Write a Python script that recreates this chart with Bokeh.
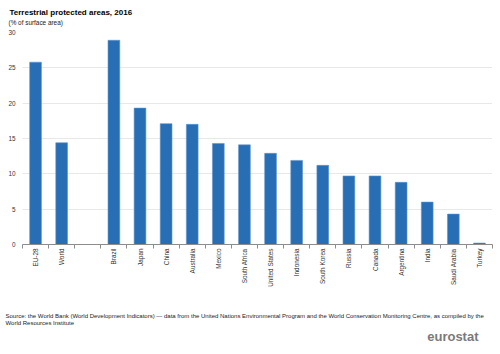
import math
from bokeh.plotting import figure
from bokeh.models import (Range1d, LinearAxis, FixedTicker, Title, ColumnDataSource)
from bokeh.embed import file_html
from bokeh.resources import INLINE

categories = ["EU-28", "World", " ", "Brazil", "Japan", "China", "Australia", "Mexico",
              "South Africa", "United States", "Indonesia", "South Korea", "Russia",
              "Canada", "Argentina", "India", "Saudi Arabia", "Turkey"]
bar_categories = ["EU-28", "World", "Brazil", "Japan", "China", "Australia", "Mexico",
                  "South Africa", "United States", "Indonesia", "South Korea", "Russia",
                  "Canada", "Argentina", "India", "Saudi Arabia", "Turkey"]
values = [25.8, 14.4, 28.9, 19.3, 17.1, 17.0, 14.3, 14.1, 12.9, 11.9, 11.2, 9.7, 9.7,
          8.8, 6.0, 4.3, 0.2]
y_ticks = [0, 5, 10, 15, 20, 25, 30]

title_text = "Terrestrial protected areas, 2016"
subtitle_text = "(% of surface area)"
source_text = ("Source: the World Bank (World Development Indicators) \u2014 data from the "
               "United Nations Environmental Program and the World Conservation Monitoring "
               "Centre, as compiled by the\nWorld Resources Institute")
logo_text = "eurostat"

FONT = "Liberation Sans"
W, H = 500, 354
N = len(categories)
LEFT, RIGHT, TOP, BOTTOM = 22, 8, 32, 110

p = figure(x_range=Range1d(-0.5, N - 0.5), y_range=Range1d(0, 30), width=W, height=H,
           output_backend="svg", toolbar_location=None, x_axis_location=None,
           title_location=None,
           min_border_left=LEFT, min_border_right=RIGHT, min_border_top=TOP,
           min_border_bottom=BOTTOM)
p.outline_line_color = None
p.background_fill_color = "white"

src = ColumnDataSource(dict(x=[categories.index(c) for c in bar_categories], val=values))
p.vbar(x="x", top="val", width=0.45, source=src, fill_color="#286EB4",
       line_color="#5d93cf", line_width=0.6)

# y axis
ya = p.yaxis[0]
ya.ticker = FixedTicker(ticks=y_ticks)
ya.axis_line_color = None
ya.major_tick_line_color = None
ya.minor_tick_line_color = None
ya.major_tick_out = 0
ya.major_tick_in = 0
ya.minor_tick_out = 0
ya.minor_tick_in = 0
ya.major_label_text_font = FONT
ya.major_label_text_font_size = "6.4px"
ya.major_label_text_color = "#333333"
ya.major_label_standoff = 7

for g in p.grid:
    if g.dimension == 0:
        g.visible = False
    else:
        g.grid_line_color = "#d0d0d0"
        g.grid_line_dash = "1 1"
        g.ticker = FixedTicker(ticks=y_ticks)

# boundary tick axis (ticks between categories)
edge_axis = LinearAxis(ticker=FixedTicker(ticks=[i - 0.5 for i in range(N + 1)]),
                       major_tick_in=0, major_tick_out=4, minor_tick_line_color=None,
                       minor_tick_out=0, minor_tick_in=0,
                       axis_line_color="#8c8c8c", major_tick_line_color="#8c8c8c",
                       major_label_standoff=0, major_label_text_font_size="1px",
                       major_label_text_color=None)
p.add_layout(edge_axis, "below")

label_axis = LinearAxis(ticker=FixedTicker(ticks=list(range(N))),
                        major_label_overrides={i: c for i, c in enumerate(categories)},
                        major_label_orientation=math.pi / 2,
                        axis_line_color=None, major_tick_line_color=None,
                        minor_tick_line_color=None, major_tick_out=0, major_tick_in=0,
                        minor_tick_out=0, minor_tick_in=0,
                        major_label_text_font=FONT, major_label_text_font_size="6.4px",
                        major_label_text_color="#333333", major_label_standoff=0)
p.add_layout(label_axis, "below")

def ttl(text, size, offset=0, style="normal", color="#000000", standoff=0, align="left"):
    return Title(text=text, text_font=FONT, text_font_size=size, text_font_style=style,
                 text_color=color, standoff=standoff, offset=offset, align=align,
                 vertical_align="bottom")

# above: nearest the frame first
p.add_layout(ttl(" ", "4.8px"), "above")
p.add_layout(ttl(subtitle_text, "6.4px", offset=8 - LEFT, color="#222222"), "above")
p.add_layout(ttl(title_text, "8px", offset=9 - LEFT, style="bold"), "above")

# below: after the axes
p.add_layout(ttl(" ", "5px", standoff=12.7), "below")
src_title = ttl(source_text, "6px", offset=5 - LEFT, color="#222222")
src_title.text_line_height = 1.33
p.add_layout(src_title, "below")
p.add_layout(ttl(logo_text, "13px", offset=14, style="bold", color="#7a7a7a",
                 align="right"), "below")

open("out.html", "w").write(file_html(p, INLINE))
